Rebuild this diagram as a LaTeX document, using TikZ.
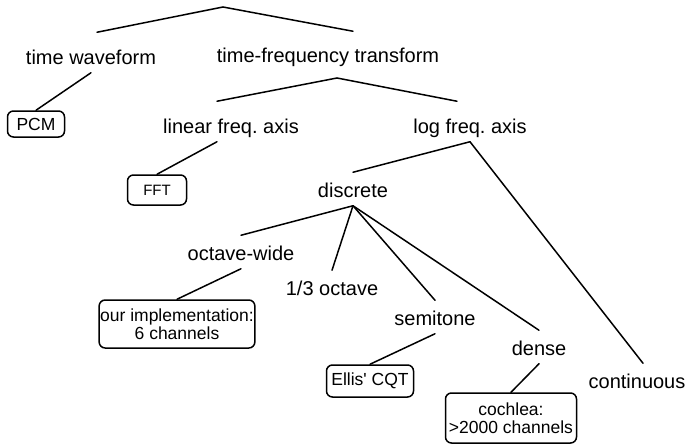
\documentclass[tikz,border=0pt]{standalone}
\usepackage{fontspec}
\setmainfont{Liberation Sans}

\begin{document}
\begin{tikzpicture}[x=1pt,y=-1pt,line width=1.5pt,line cap=round,
  lbl/.style={font=\fontsize{20}{24}\selectfont,anchor=base,inner xsep=0pt,
    inner ysep=4pt,text height=20pt,text depth=4pt},
  toplbl/.style={lbl,text height=27pt},
  leaf/.style={draw,rounded corners=6pt,font=\fontsize{17.5}{18.5}\selectfont,
    align=center,inner xsep=1pt,inner ysep=5pt,minimum height=26pt}]
  \useasboundingbox (0,0) rectangle (698,444);

  % split points of the two upper levels
  \coordinate (root) at (223,7);
  \coordinate (tfsplit) at (337,78);

  \node[toplbl](tw) at (91,64) {time waveform};
  \node[toplbl](tf) at (328,63) {time-frequency transform};
  \node[toplbl](lin) at (231,133) {linear freq.\ axis};
  \node[toplbl](log) at (470,133) {log freq.\ axis};
  \node[lbl](disc) at (353,197) {discrete};
  \node[lbl](ow) at (241,260) {octave-wide};
  \node[lbl](third) at (332,295) {1/3 octave};
  \node[lbl](semi) at (435,325) {semitone};
  \node[lbl](dense) at (539,355) {dense};
  \node[lbl](cont) at (637,388) {continuous};

  \node[leaf,minimum width=57pt](pcm) at (36,124) {PCM};
  \node[leaf,minimum width=59pt,minimum height=30pt,
    font=\fontsize{15}{18}\selectfont](fft) at (157,190) {FFT};
  \node[leaf,minimum width=155pt,minimum height=48pt](impl) at (177,324)
    {our implementation:\\6 channels};
  \node[leaf,minimum width=87pt,minimum height=32pt](cqt) at (370,381)
    {Ellis\textquotesingle\ CQT};
  \node[leaf,minimum width=131pt,minimum height=50pt](cochlea) at (511,418)
    {cochlea:\\>2000 channels};

  \path
  (root) edge ([xshift=6pt]tw.north)
         edge ([xshift=25pt]tf.north)
  (tw.south) edge (pcm.north)
  (tfsplit) edge ([xshift=-14pt]lin.north)
            edge ([xshift=-13pt]log.north)
  ([xshift=-14pt]lin.south) edge (fft.north)
  (log.south) edge (disc.north)
              edge ([xshift=6pt]cont.north)
  (disc.south) edge (ow.north)
               edge (third.north)
               edge (semi.north)
               edge (dense.north)
  (ow.south) edge (impl.north)
  (semi.south) edge (cqt.north)
  (dense.south) edge (cochlea.north);
\end{tikzpicture}
\end{document}
